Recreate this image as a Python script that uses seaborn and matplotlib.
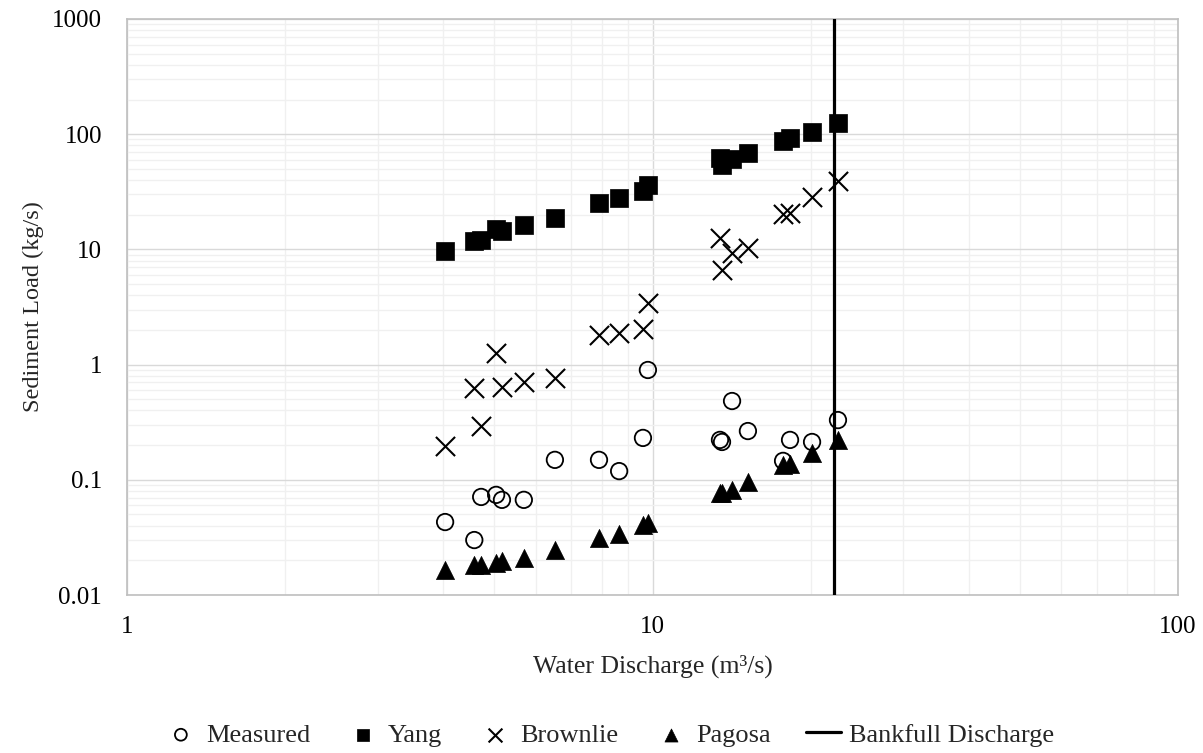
import matplotlib
matplotlib.use('Agg')
import matplotlib.pyplot as plt
import seaborn as sns
from matplotlib.ticker import LogLocator, NullFormatter, FixedLocator, FixedFormatter

# Water discharge (m3/s) for each sampled event
discharge = [4.03, 4.58, 4.72, 5.04, 5.17, 5.69, 6.52, 7.91, 8.64, 9.59, 9.80,
             13.44, 13.56, 14.17, 15.19, 17.72, 18.27, 20.12, 22.54]

# Sediment load (kg/s)
measured = [0.043, 0.030, 0.071, 0.074, 0.067, 0.067, 0.149, 0.149, 0.119, 0.231, 0.898,
            0.222, 0.213, 0.483, 0.265, 0.146, 0.222, 0.213, 0.330]
yang = [9.7, 11.8, 12.1, 15.0, 14.5, 16.3, 18.7, 25.3, 27.9, 32.0, 36.5,
        62.0, 54.0, 61.0, 68.7, 87.3, 92.7, 104.5, 125.0]
brownlie = [0.196, 0.627, 0.293, 1.26, 0.64, 0.706, 0.765, 1.81, 1.88, 2.04, 3.42,
            12.6, 6.62, 9.3, 10.3, 20.3, 20.7, 28.5, 39.2]
pagosa = [0.0165, 0.0182, 0.0182, 0.0190, 0.0197, 0.0210, 0.0246, 0.0313, 0.0339, 0.0405, 0.0422,
          0.0768, 0.0768, 0.0815, 0.0957, 0.134, 0.137, 0.171, 0.222]

bankfull = 22.15

x_ticks = [1, 10, 100]
x_tick_labels = ['1', '10', '100']
y_ticks = [0.01, 0.1, 1, 10, 100, 1000]
y_tick_labels = ['0.01', '0.1', '1', '10', '100', '1000']

sns.set_theme(style="white")
plt.rcParams['font.family'] = ['Liberation Serif', 'DejaVu Serif']

fig = plt.figure(figsize=(12.03, 7.53), dpi=100)
ax = fig.add_axes([0.1056, 0.2098, 0.8736, 0.7650])

sns.scatterplot(x=discharge, y=measured, marker='o', s=140, facecolor='none',
                edgecolor='black', linewidth=1.3, label='Measured', ax=ax, zorder=3)
sns.scatterplot(x=discharge, y=yang, marker='s', s=150, color='black',
                edgecolor='black', linewidth=0.5, label='Yang', ax=ax, zorder=3)
sns.scatterplot(x=discharge, y=brownlie, marker='x', s=190, color='black',
                linewidth=1.5, label='Brownlie', ax=ax, zorder=3)
sns.scatterplot(x=discharge, y=pagosa, marker='^', s=170, color='black',
                edgecolor='black', linewidth=0.5, label='Pagosa', ax=ax, zorder=3)
ax.axvline(bankfull, color='black', linewidth=2.3, label='Bankfull Discharge', zorder=4)

ax.set_xscale('log')
ax.set_yscale('log')
ax.set_xlim(1, 100)
ax.set_ylim(0.01, 1000)

ax.xaxis.set_major_locator(FixedLocator(x_ticks))
ax.xaxis.set_major_formatter(FixedFormatter(x_tick_labels))
ax.yaxis.set_major_locator(FixedLocator(y_ticks))
ax.yaxis.set_major_formatter(FixedFormatter(y_tick_labels))
for axis in (ax.xaxis, ax.yaxis):
    axis.set_minor_locator(LogLocator(base=10, subs=range(2, 10), numticks=20))
    axis.set_minor_formatter(NullFormatter())

ax.grid(True, which='major', color='#d9d9d9', linewidth=1.0, zorder=0)
ax.grid(True, which='minor', color='#f0f0f0', linewidth=1.0, zorder=0)
ax.set_axisbelow(True)
for side in ax.spines.values():
    side.set_color('#bfbfbf')
    side.set_linewidth(1.2)

ax.tick_params(axis='both', which='both', length=0, labelsize=18, colors='black')
ax.tick_params(axis='x', pad=15)
ax.tick_params(axis='y', pad=18)

ax.set_xlabel('Water Discharge (m³/s)', fontsize=18.5, labelpad=12)
ax.set_ylabel('Sediment Load (kg/s)', fontsize=17.5, labelpad=6)

if ax.legend_:
    ax.legend_.remove()
handles, labels = ax.get_legend_handles_labels()
fig.legend(handles, labels, loc='center', bbox_to_anchor=(0.506, 0.024), ncol=5,
           frameon=False, fontsize=19, markerscale=0.72, handlelength=1.3,
           handletextpad=0.3, columnspacing=1.35)

fig.savefig('out.png', dpi=100)
